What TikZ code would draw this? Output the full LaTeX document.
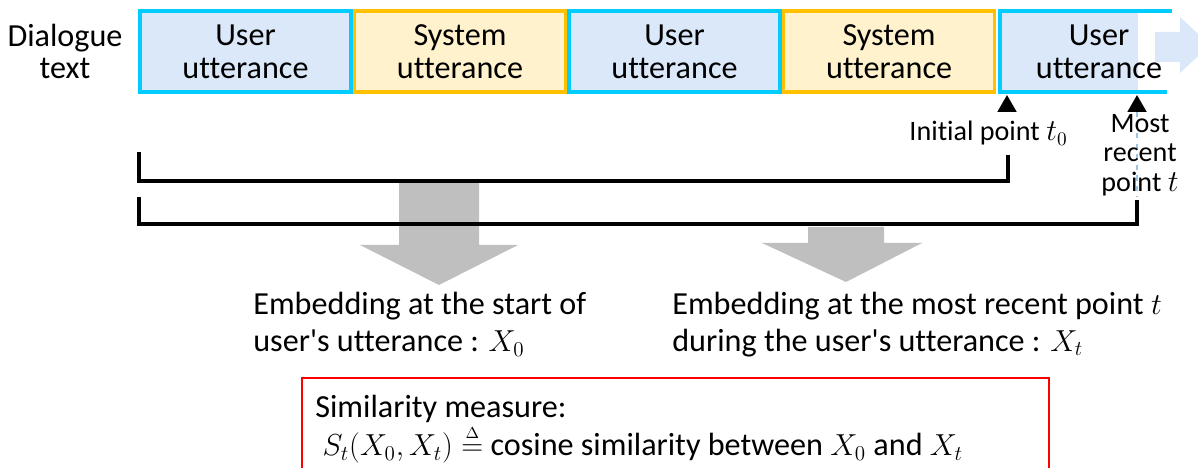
\documentclass[tikz,border=0pt]{standalone}
\usepackage{amsmath}
\usepackage{amssymb}
\usepackage{xcolor}
\usepackage{fontspec}
\setmainfont{Carlito}[Ligatures=NoCommon]
\usepackage{tikz}
\usetikzlibrary{positioning}
\usetikzlibrary{shapes.geometric}

\definecolor{usercyan}{RGB}{0,204,255}
\definecolor{userfill}{RGB}{218,232,250}
\definecolor{sysgold}{RGB}{255,192,0}
\definecolor{sysfill}{RGB}{255,242,204}
\definecolor{arrowgray}{RGB}{191,191,191}
\definecolor{dashblue}{RGB}{157,195,230}

\newcommand{\defeq}{\mathrel{\stackrel{\scriptscriptstyle\Delta}{=}}}

\begin{document}
\begin{tikzpicture}[
		uttbox/.style={draw,line width=2pt,minimum width=4.22cm,minimum height=1.62cm,inner sep=0pt,align=center,font=\fontsize{18.3}{18.6}\selectfont},
		userbox/.style={uttbox,draw=usercyan,fill=userfill},
		sysbox/.style={uttbox,draw=sysgold,fill=sysfill},
		tick/.style={regular polygon,regular polygon sides=3,fill=black,inner sep=0pt,minimum size=0.45cm},
		bracket/.style={line width=2.5pt},
		bigtext/.style={font=\fontsize{18.3}{21}\selectfont,align=left,inner sep=0pt},
		smalltext/.style={font=\fontsize{16}{16.8}\selectfont,align=center,inner sep=0pt}]
		\useasboundingbox (0,0) rectangle (23.96,-9.36);
		\node[font=\fontsize{18.3}{18.6}\selectfont,align=center] (dlg) at (1.3,-1.03) {Dialogue\\text};
		\node[userbox] (u1) at (4.91,-1.03) {User\\utterance};
		\node[sysbox,right=0pt of u1] (s1) {System\\utterance};
		\node[userbox,right=0pt of s1] (u2) {User\\utterance};
		\node[sysbox,right=0pt of u2] (s2) {System\\utterance};
		\fill[userfill] (20.0,-0.22) rectangle (22.76,-1.84);
		\draw[usercyan,line width=2pt] (23.44,-0.22) -- (20.0,-0.22) -- (20.0,-1.84) -- (23.34,-1.84);
		\node[font=\fontsize{18.3}{18.6}\selectfont,align=center] (u3) at (21.98,-1.03) {User\\utterance};
		\fill[userfill] (23.1,-0.64) -- (23.6,-0.64) -- (23.6,-0.34) -- (24.2,-0.9) -- (23.6,-1.46) -- (23.6,-1.24) -- (23.1,-1.24) -- cycle;
		\draw[dashblue,thick,dashed] (22.74,-2.24) -- (22.74,-3.94);
		\node[tick] (m0) at (20.14,-2.127) {};
		\node[tick] (m1) at (22.74,-2.127) {};
		\node[smalltext] (lbl0) at (19.77,-2.66) {Initial point $t_0$};
		\node[smalltext] (lbl1) at (22.8,-3.1) {Most\\recent\\point $t$};
		\fill[arrowgray] (7.98,-3.62) -- (9.58,-3.62) -- (9.58,-4.9) -- (10.36,-4.9) -- (8.78,-5.7) -- (7.2,-4.9) -- (7.98,-4.9) -- cycle;
		\fill[arrowgray] (16.16,-4.54) -- (17.68,-4.54) -- (17.68,-4.86) -- (18.44,-4.86) -- (16.92,-5.64) -- (15.24,-4.86) -- (16.16,-4.86) -- cycle;
		\coordinate (b0) at (2.78,-3.04);
		\coordinate (e0) at (20.16,-3.1);
		\coordinate (b1) at (2.78,-3.94);
		\coordinate (e1) at (22.74,-4.0);
		\draw[bracket] (b0) -- ++(0,-0.58) -| (e0);
		\draw[bracket] (b1) -- ++(0,-0.54) -| (e1);
		\node[bigtext,anchor=west] (emb0) at (5.06,-6.49) {Embedding at the start of\\user\textquotesingle s utterance : $X_0$};
		\node[bigtext,anchor=west] (emb1) at (13.44,-6.49) {Embedding at the most recent point $t$\\during the user\textquotesingle s utterance : $X_t$};
		\draw[red,thick] (6.04,-9.6) -- (6.04,-7.56) -- (20.98,-7.56) -- (20.98,-9.6);
		\node[bigtext,anchor=north west,font=\fontsize{18.3}{19.8}\selectfont] (sim) at (6.3,-7.9) {Similarity measure:\\\ $S_t(X_0,X_t)\defeq$ cosine similarity between $X_0$ and $X_t$};
	\end{tikzpicture}
\end{document}
